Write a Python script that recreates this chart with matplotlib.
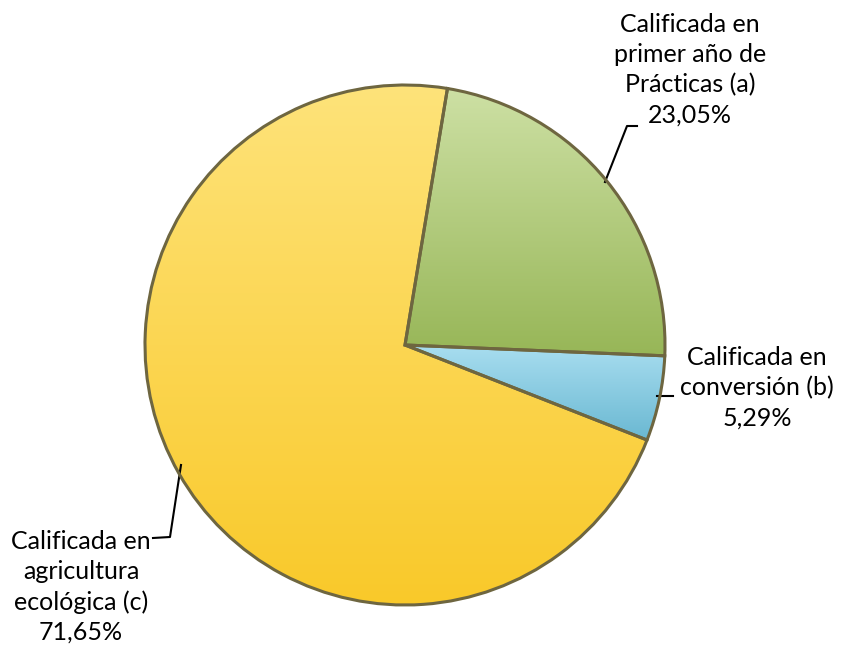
import numpy as np
import matplotlib.pyplot as plt
from matplotlib.colors import LinearSegmentedColormap

# ---------- data ----------
labels = ['Calificada en\nprimer año de\nPrácticas (a)\n23,05%',
          'Calificada en\nconversión (b)\n5,29%',
          'Calificada en\nagricultura\necológica (c)\n71,65%']
values = [23.05, 5.29, 71.65]
top_colors = ['#cde0a4', '#a9def0', '#fee37a']
bottom_colors = ['#97b657', '#6ab8d2', '#f9c92a']

plt.rcParams['font.family'] = ['Lato', 'DejaVu Sans']

W, H = 841, 648
fig = plt.figure(figsize=(W / 100, H / 100), dpi=100)
ax = fig.add_axes([0, 0, 1, 1])

cx, cy, r = 405, H - 345, 260

wedges, _ = ax.pie(values, center=(cx, cy), radius=r, startangle=80.6,
                   counterclock=False, colors=bottom_colors,
                   wedgeprops=dict(linewidth=0), frame=True)

# gradient fill for each slice, top to bottom of the slice itself
grad = np.linspace(0, 1, 256).reshape(-1, 1)
for w, c1, c2 in zip(wedges, top_colors, bottom_colors):
    cmap = LinearSegmentedColormap.from_list('g', [c1, c2])
    bb = w.get_path().get_extents()
    im = ax.imshow(grad, cmap=cmap, aspect='auto',
                   extent=(bb.x0, bb.x1, bb.y0, bb.y1), origin='upper', zorder=2)
    im.set_clip_path(w)

# darker bevel edges
ax.pie(values, center=(cx, cy), radius=r, startangle=80.6, counterclock=False,
       colors=['none'] * 3, frame=True,
       wedgeprops=dict(linewidth=2.2, edgecolor='#6e6640', zorder=3))

ax.set_xlim(0, W)
ax.set_ylim(0, H)
ax.set_aspect('equal')
ax.axis('off')

# ---------- labels ----------
fs = 18
ls = 1.37
ax.text(690, H - 70, labels[0], ha='center', va='center', fontsize=fs, linespacing=ls)
ax.plot([637, 627, 605], [H - 126, H - 126, H - 182], color='black', lw=1.5)

ax.text(757, H - 388, labels[1], ha='center', va='center', fontsize=fs, linespacing=ls)
ax.plot([657, 673], [H - 396, H - 396], color='black', lw=1.5)

ax.text(81, H - 587, labels[2], ha='center', va='center', fontsize=fs, linespacing=ls)
ax.plot([153, 170, 181], [H - 538, H - 537, H - 465], color='black', lw=1.5)

fig.savefig('out.png', dpi=100)
